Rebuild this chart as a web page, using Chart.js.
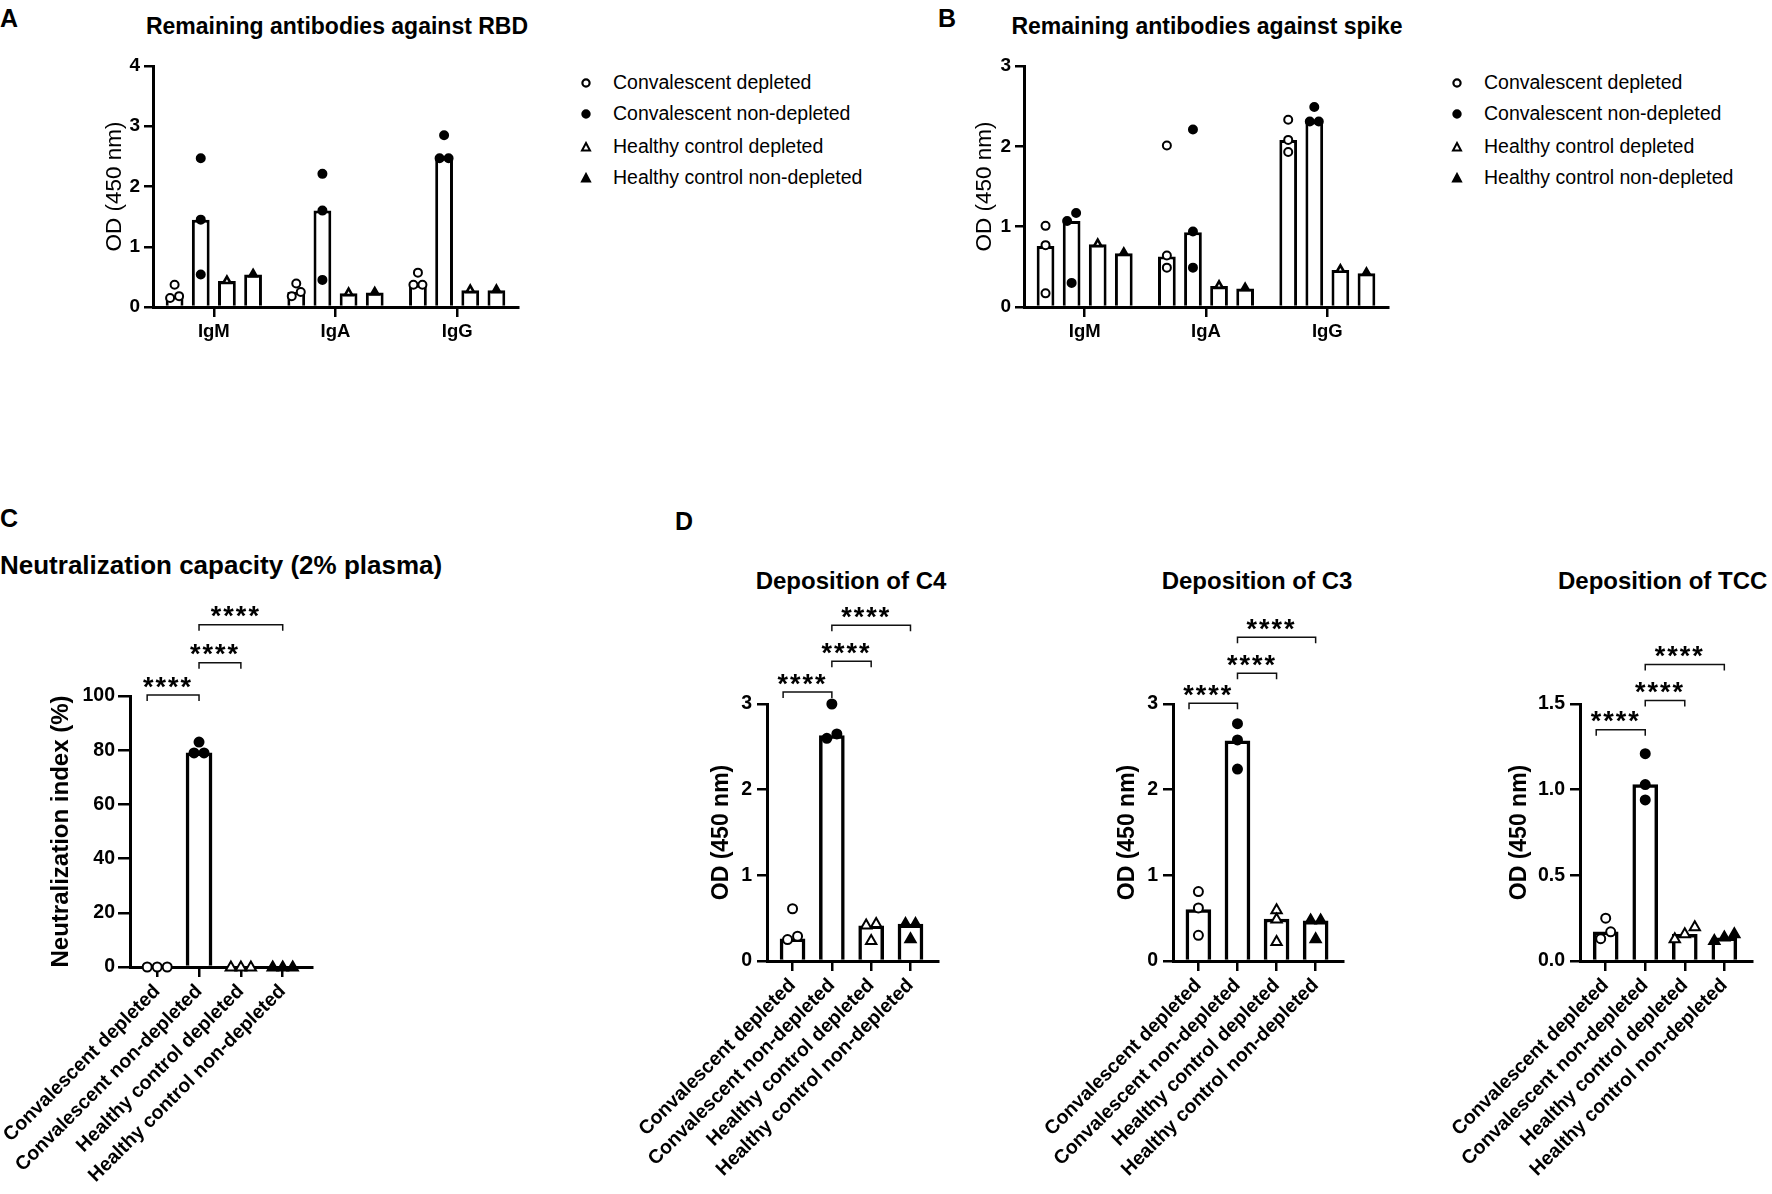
<!DOCTYPE html>
<html>
<head>
<meta charset="utf-8">
<script src="https://cdn.jsdelivr.net/npm/chart.js@4.4.1/dist/chart.umd.min.js"></script>
<style>
  body { margin: 0; width: 1772px; height: 1194px; overflow: hidden; background: #fff; position: relative;
         font-family: "Liberation Sans", Arial, Helvetica, sans-serif; color: #000; }
  canvas { position: absolute; }
  .t { position: absolute; line-height: 1; white-space: nowrap; }
  .b { font-weight: bold; }
  .c { transform: translateX(-50%); }
  .legend-row { position: absolute; line-height: 1; white-space: nowrap; font-size: 19.5px; }
  .legend-row svg { position: absolute; left: -33px; top: 4px; }
</style>
</head>
<body>

<div class="t b" style="left:0px; top:6px; font-size:25px;">A</div>
<div class="t b c" style="left:337px; top:15px; font-size:23px;">Remaining antibodies against RBD</div>
<div class="t b" style="left:938px; top:6px; font-size:25px;">B</div>
<div class="t b c" style="left:1207px; top:15px; font-size:23px;">Remaining antibodies against spike</div>
<div class="t b" style="left:0px; top:506px; font-size:25px;">C</div>
<div class="t b" style="left:0px; top:552px; font-size:26px;">Neutralization capacity (2% plasma)</div>
<div class="t b" style="left:675px; top:509px; font-size:25px;">D</div>
<div class="t b c" style="left:851px; top:569px; font-size:24px;">Deposition of C4</div>
<div class="t b c" style="left:1257px; top:569px; font-size:24px;">Deposition of C3</div>
<div class="t b" style="left:1558px; top:569px; font-size:24px;">Deposition of TCC</div>

<div id="legendA"></div>
<div id="legendB"></div>

<canvas id="rbd" width="545" height="320" style="left:0px; top:40px;"></canvas>
<canvas id="spike" width="545" height="320" style="left:870px; top:40px;"></canvas>
<canvas id="neut" width="340" height="604" style="left:0px; top:590px;"></canvas>
<canvas id="c4" width="340" height="594" style="left:620px; top:600px;"></canvas>
<canvas id="c3" width="340" height="594" style="left:1020px; top:600px;"></canvas>
<canvas id="tcc" width="352" height="594" style="left:1420px; top:600px;"></canvas>

<script>
const groups = ["Convalescent depleted", "Convalescent non-depleted", "Healthy control depleted", "Healthy control non-depleted"];
const isotypes = ["IgM", "IgA", "IgG"];

// A - remaining antibodies against RBD (bar = median per isotype)
const rbdConvDepleted = [0.18, 0.25, 0.37];
const rbdConvNonDepleted = [1.45, 1.60, 2.48];
const rbdHealthyDepleted = [0.43, 0.23, 0.28];
const rbdHealthyNonDepleted = [0.54, 0.24, 0.28];
const rbdConvDepletedPts = [[0.37, 0.15, 0.18], [0.39, 0.18, 0.25], [0.57, 0.37, 0.37]];
const rbdConvNonDepletedPts = [[2.47, 1.45, 0.54], [2.21, 1.60, 0.45], [2.85, 2.47, 2.47]];
const rbdHealthyDepletedPts = [[0.44], [0.24], [0.29]];
const rbdHealthyNonDepletedPts = [[0.55], [0.25], [0.29]];

// B - remaining antibodies against spike
const spikeConvDepleted = [0.76, 0.63, 2.08];
const spikeConvNonDepleted = [1.07, 0.93, 2.31];
const spikeHealthyDepleted = [0.78, 0.26, 0.46];
const spikeHealthyNonDepleted = [0.67, 0.23, 0.42];
const spikeConvDepletedPts = [[1.01, 0.77, 0.17], [2.01, 0.64, 0.49], [2.33, 2.08, 1.93]];
const spikeConvNonDepletedPts = [[1.17, 1.07, 0.30], [2.21, 0.94, 0.49], [2.49, 2.31, 2.31]];
const spikeHealthyDepletedPts = [[0.79], [0.27], [0.47]];
const spikeHealthyNonDepletedPts = [[0.68], [0.24], [0.43]];

// C - neutralization index (%)
const neutBars = [0, 79, 0, 0];
const neutPts = [[0, 0, 0], [83, 79, 79], [0, 0, 0], [0, 0, 0]];

// D - complement deposition, OD (450 nm)
const c4Bars = [0.26, 2.63, 0.41, 0.43];
const c4Pts = [[0.61, 0.25, 0.29], [3.00, 2.65, 2.60], [0.44, 0.42, 0.24], [0.44, 0.44, 0.26]];
const c3Bars = [0.60, 2.57, 0.49, 0.47];
const c3Pts = [[0.81, 0.62, 0.30], [2.77, 2.58, 2.24], [0.60, 0.49, 0.23], [0.48, 0.48, 0.26]];
const tccBars = [0.17, 1.03, 0.155, 0.135];
const tccPts = [[0.25, 0.17, 0.13], [1.21, 1.03, 0.94], [0.20, 0.16, 0.13], [0.16, 0.14, 0.12]];

// significance brackets: group index pairs and the y level of each bracket
const sigPairs = [[-0.24, 1], [1, 2], [1, 3]];
const neutSigLevels = [100.4, 112.3, 126.3];
const c4SigLevels = [3.14, 3.50, 3.92];
const c3SigLevels = [3.01, 3.36, 3.78];
const tccSigLevels = [1.35, 1.52, 1.73];
const sigLabel = "****";

const FONT = '"Liberation Sans", Arial, Helvetica, sans-serif';
const markerShapes = ["circle", "circle", "triangle", "triangle"];
const markerFilled = [false, true, false, true];

function markerPath(ctx, g, x, y, r, tri, lw) {
    ctx.beginPath();
    if (markerShapes[g] === "circle") {
        ctx.arc(x, y, r, 0, Math.PI * 2);
    } else {
        const t = tri || r;
        ctx.moveTo(x, y - t * 1.2);
        ctx.lineTo(x + t * 1.15, y + t * 0.8);
        ctx.lineTo(x - t * 1.15, y + t * 0.8);
        ctx.closePath();
    }
    ctx.fillStyle = markerFilled[g] ? "#000" : "#fff";
    ctx.fill();
    ctx.lineWidth = markerShapes[g] === "triangle" && lw ? lw : 2;
    ctx.strokeStyle = "#000";
    ctx.stroke();
}

// points close in height are spread sideways like a prism scatter
function spreadOffsets(ys, gap) {
    const order = ys.map((y, i) => i).sort((a, b) => ys[a] - ys[b]);
    const off = ys.map(() => 0);
    let cluster = [order[0]];
    const flush = () => {
        cluster.sort((a, b) => ys[b] - ys[a]);
        cluster.forEach((idx, k) => { off[idx] = (k - (cluster.length - 1) / 2) * gap; });
    };
    for (let k = 1; k < order.length; k++) {
        if (ys[order[k]] - ys[order[k - 1]] < gap * 0.9) {
            cluster.push(order[k]);
        } else {
            flush();
            cluster = [order[k]];
        }
    }
    flush();
    return off;
}

const dotsPlugin = {
    id: "dots",
    afterDatasetsDraw(chart) {
        const ctx = chart.ctx;
        const yScale = chart.scales.y;
        ctx.save();
        chart.data.datasets.forEach((ds, d) => {
            const meta = chart.getDatasetMeta(d);
            meta.data.forEach((bar, j) => {
                const ys = ds.points[j].map(v => yScale.getPixelForValue(v));
                const offs = spreadOffsets(ys, 2 * ds.dotRadius + 1);
                ys.forEach((y, k) => markerPath(ctx, ds.markerGroups[j], bar.x + offs[k], y, ds.dotRadius, ds.triSize, ds.triLine));
            });
        });
        ctx.restore();
    }
};

function bracketPlugin(levels) {
    return {
        id: "brackets",
        afterDraw(chart) {
            const ctx = chart.ctx;
            const xs = chart.scales.x;
            const ys = chart.scales.y;
            const fs = 27;
            ctx.save();
            ctx.strokeStyle = "#111";
            ctx.fillStyle = "#000";
            ctx.lineWidth = 1.5;
            ctx.font = "bold " + fs + "px " + FONT;
            ctx.letterSpacing = "2px";
            ctx.textAlign = "center";
            ctx.textBaseline = "alphabetic";
            sigPairs.forEach(([a, b], k) => {
                const x1 = xs.getPixelForValue(a);
                const x2 = xs.getPixelForValue(b);
                const y = ys.getPixelForValue(levels[k]);
                ctx.beginPath();
                ctx.moveTo(x1, y + 6);
                ctx.lineTo(x1, y);
                ctx.lineTo(x2, y);
                ctx.lineTo(x2, y + 6);
                ctx.stroke();
                ctx.fillText(sigLabel, (x1 + x2) / 2 - 5, y - 15 + 0.58 * fs);
            });
            ctx.restore();
        }
    };
}

function axisBase(size, bold, tickLen) {
    return {
        ticks: { color: "#000", font: { family: FONT, size: size, weight: bold ? "bold" : "normal" } },
        grid: { display: true, drawOnChartArea: false, offset: false, tickLength: tickLen, color: "#000", lineWidth: 2.5 },
        border: { display: true, color: "#000", width: 3 }
    };
}

// fixed axis sizes so the plot area lands where the figure has it
function fixHeight(h) {
    return s => { s.height = h; s.paddingLeft = 0; s.paddingRight = 0; };
}
function fixWidth(w) {
    return s => { s.width = w; s.paddingTop = 0; s.paddingBottom = 0; };
}

// A and B: grouped bars per isotype
function isotypeChart(id, bars, pts, yMax, L) {
    const x = axisBase(18.5, true, 10);
    x.ticks.padding = 4;
    x.afterFit = fixHeight(L.xh);
    const y = axisBase(19, true, 9);
    y.min = 0;
    y.max = yMax;
    y.ticks.stepSize = 1;
    y.ticks.padding = 4;
    y.title = { display: true, text: "OD (450 nm)", color: "#000", font: { family: FONT, size: 22.5 }, padding: { top: L.tp, bottom: 0 } };
    y.afterFit = fixWidth(L.yw);
    return new Chart(document.getElementById(id), {
        type: "bar",
        data: {
            labels: isotypes,
            datasets: bars.map((b, d) => ({
                label: groups[d],
                data: b,
                points: pts[d],
                markerGroups: isotypes.map(() => d),
                dotRadius: 4,
                triSize: 3.2,
                triLine: 2.6,
                backgroundColor: "#fff",
                borderColor: "#000",
                borderWidth: 3,
                barPercentage: 0.68,
                categoryPercentage: 0.86
            }))
        },
        options: {
            responsive: false,
            animation: false,
            layout: { padding: { left: 0, top: L.top, right: L.right, bottom: 0 } },
            plugins: { legend: { display: false }, tooltip: { enabled: false } },
            scales: { x: x, y: y }
        },
        plugins: [dotsPlugin]
    });
}

// C and D: one bar per group, group labels rotated
function groupChart(id, bars, pts, yOpts, levels, L) {
    const x = axisBase(L.xfs, true, 10);
    x.type = "linear";
    x.offset = false;
    x.min = -0.65;
    x.max = 3.7;
    x.afterBuildTicks = s => { s.ticks = groups.map((g, i) => ({ value: i })); };
    x.ticks.callback = v => groups[v];
    x.ticks.autoSkip = false;
    x.ticks.minRotation = 45;
    x.ticks.maxRotation = 45;
    x.ticks.padding = 3;
    x.afterFit = fixHeight(L.xh);
    const y = axisBase(19.5, true, L.ytl);
    y.min = 0;
    y.max = yOpts.max;
    y.ticks.stepSize = yOpts.step;
    y.ticks.padding = L.ytp;
    if (yOpts.fixed) y.ticks.callback = v => v.toFixed(yOpts.fixed);
    y.title = { display: true, text: yOpts.title, color: "#000", font: { family: FONT, size: yOpts.titleSize, weight: "bold" }, padding: { top: L.tp, bottom: 0 } };
    y.afterFit = fixWidth(L.yw);
    return new Chart(document.getElementById(id), {
        type: "bar",
        data: {
            datasets: [{
                data: bars.map((v, i) => ({ x: i, y: v })),
                points: pts,
                markerGroups: groups.map((g, i) => i),
                dotRadius: 4.5,
                backgroundColor: "#fff",
                borderColor: "#000",
                borderWidth: 3.5,
                barThickness: L.bw
            }]
        },
        options: {
            responsive: false,
            animation: false,
            layout: { padding: { left: 0, top: L.top, right: L.right, bottom: 0 } },
            plugins: { legend: { display: false }, tooltip: { enabled: false } },
            scales: { x: x, y: y }
        },
        plugins: [dotsPlugin, bracketPlugin(levels)]
    });
}

function legend(id, left) {
    const box = document.getElementById(id);
    const rowsY = [83, 114, 147, 178];
    groups.forEach((g, i) => {
        const row = document.createElement("div");
        row.className = "legend-row";
        row.style.left = left + "px";
        row.style.top = (rowsY[i] - 10) + "px";
        const fill = markerFilled[i] ? "#000" : "#fff";
        const shape = markerShapes[i] === "circle"
            ? '<circle cx="6" cy="6" r="3.6" fill="' + fill + '" stroke="#000" stroke-width="2.2"/>'
            : '<polygon points="6,2 10,9.5 2,9.5" fill="' + fill + '" stroke="#000" stroke-width="2"/>';
        row.innerHTML = '<svg width="12" height="12">' + shape + "</svg>" + g;
        box.appendChild(row);
    });
}

legend("legendA", 613);
legend("legendB", 1484);

isotypeChart("rbd",
    [rbdConvDepleted, rbdConvNonDepleted, rbdHealthyDepleted, rbdHealthyNonDepleted],
    [rbdConvDepletedPts, rbdConvNonDepletedPts, rbdHealthyDepletedPts, rbdHealthyNonDepletedPts],
    4, { top: 26, right: 27, xh: 53, yw: 153, tp: 101.5 });

isotypeChart("spike",
    [spikeConvDepleted, spikeConvNonDepleted, spikeHealthyDepleted, spikeHealthyNonDepleted],
    [spikeConvDepletedPts, spikeConvNonDepletedPts, spikeHealthyDepletedPts, spikeHealthyNonDepletedPts],
    3, { top: 26, right: 27, xh: 53, yw: 154, tp: 101.5 });

groupChart("neut", neutBars, neutPts,
    { max: 100, step: 20, title: "Neutralization index (%)", titleSize: 24 },
    neutSigLevels, { top: 106, right: 28, xh: 227, yw: 130, tp: 46.6, ytl: 12, ytp: 3, bw: 26, xfs: 19.5 });

groupChart("c4", c4Bars, c4Pts,
    { max: 3, step: 1, title: "OD (450 nm)", titleSize: 23 },
    c4SigLevels, { top: 104, right: 22, xh: 233, yw: 147, tp: 88.2, ytl: 10, ytp: 5, bw: 25, xfs: 19.5 });

groupChart("c3", c3Bars, c3Pts,
    { max: 3, step: 1, title: "OD (450 nm)", titleSize: 23 },
    c3SigLevels, { top: 104, right: 17, xh: 233, yw: 153, tp: 94.2, ytl: 10, ytp: 5, bw: 25, xfs: 19.5 });

groupChart("tcc", tccBars, tccPts,
    { max: 1.5, step: 0.5, fixed: 1, title: "OD (450 nm)", titleSize: 23 },
    tccSigLevels, { top: 104, right: 20, xh: 233, yw: 160, tp: 86.2, ytl: 10, ytp: 5, bw: 25, xfs: 19.5 });
</script>
</body>
</html>
